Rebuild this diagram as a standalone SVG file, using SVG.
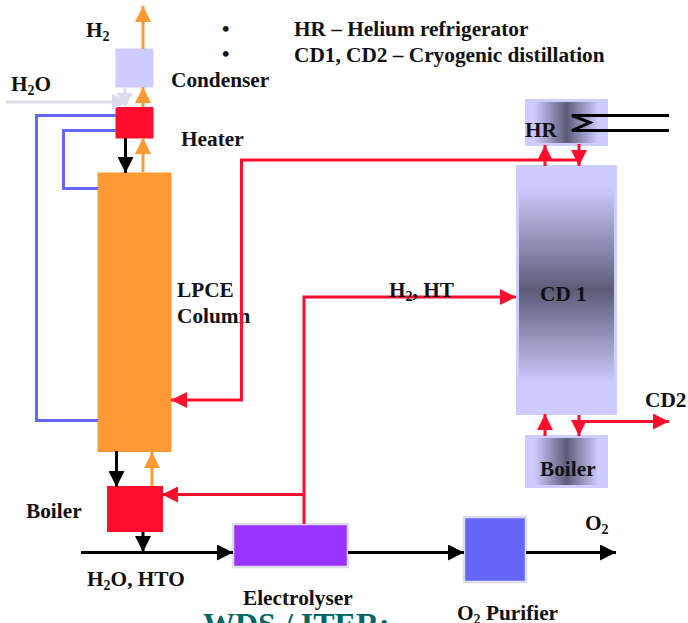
<svg xmlns="http://www.w3.org/2000/svg" width="688" height="623" viewBox="0 0 688 623">
<style>
text{font-family:"Liberation Serif","Times New Roman",serif;font-weight:bold;font-size:21.3px;fill:#111}
.sub{font-size:14px}
.l{fill:none;stroke-width:3}
.o{stroke:#ff9933}.r{stroke:#ff0d2d}.k{stroke:#000}.b{stroke:#6666ff}.g{stroke:#dcdcec}
.grad{stroke:#ccccff;stroke-width:3}
</style>
<defs>
<linearGradient id="h"><stop offset="0" stop-color="#ccccff"/><stop offset=".1" stop-color="#ccccff"/><stop offset=".5" stop-color="#5c5c78"/><stop offset=".9" stop-color="#ccccff"/><stop offset="1" stop-color="#ccccff"/></linearGradient>
<linearGradient id="v" x2="0" y2="1"><stop offset="0" stop-color="#ccccff"/><stop offset=".08" stop-color="#ccccff"/><stop offset=".5" stop-color="#5c5c78"/><stop offset=".88" stop-color="#ccccff"/><stop offset="1" stop-color="#ccccff"/></linearGradient>
<marker id="mo" markerUnits="userSpaceOnUse" markerWidth="16" markerHeight="16" refX="16" refY="8" orient="auto"><path d="M0 0L16 8L0 16Z" fill="#ff9933"/></marker>
<marker id="mr" markerUnits="userSpaceOnUse" markerWidth="16" markerHeight="16" refX="16" refY="8" orient="auto"><path d="M0 0L16 8L0 16Z" fill="#ff0d2d"/></marker>
<marker id="mk" markerUnits="userSpaceOnUse" markerWidth="16" markerHeight="16" refX="16" refY="8" orient="auto"><path d="M0 0L16 8L0 16Z" fill="#000"/></marker>
<marker id="mg" markerUnits="userSpaceOnUse" markerWidth="16" markerHeight="16" refX="16" refY="8" orient="auto"><path d="M0 0L16 8L0 16Z" fill="#dcdcec"/></marker>
</defs>
<g id="node-condenser"><rect x="115.500" y="48.500" width="38" height="39" fill="#ccccff"/><text x="171" y="87">Condenser</text></g>
<g id="node-heater"><rect x="115.500" y="107" width="38" height="31.500" fill="#ff0d2d"/><text x="181" y="146">Heater</text></g>
<g id="node-lpce"><rect x="97.500" y="172.500" width="74" height="279.500" fill="#ff9933"/><text x="177" y="297">LPCE</text><text x="177" y="323">Column</text></g>
<g id="node-boiler-left"><rect x="107" y="486" width="56" height="46" fill="#ff0d2d"/><text x="26" y="518">Boiler</text></g>
<g id="node-electrolyser"><rect x="233" y="524" width="115" height="43" fill="#9933ff" stroke="#dcdcec" stroke-width="2.500"/><text x="243" y="605">Electrolyser</text></g>
<g id="node-purifier"><rect x="464" y="517" width="62" height="65" fill="#6666ff" stroke="#dcdcec" stroke-width="2.500"/><text x="457" y="620">O<tspan class="sub" dy="4">2</tspan><tspan dy="-4"> Purifier</tspan></text></g>
<g id="node-hr"><rect class="grad" x="526.500" y="100.500" width="80" height="44" fill="url(#h)"/><text x="525" y="137">HR</text></g>
<g id="node-cd1"><rect class="grad" x="517.500" y="166.500" width="98" height="247" fill="url(#v)"/><text x="540" y="301">CD 1</text></g>
<g id="node-boiler-right"><rect class="grad" x="526.500" y="436.500" width="80" height="50" fill="url(#h)"/><text x="540" y="476">Boiler</text></g>
<g id="connectors">
<path class="l o" d="M143 49V6" marker-end="url(#mo)"/>
<path class="l o" d="M143 107V87" marker-end="url(#mo)"/>
<path class="l o" d="M143 172V138" marker-end="url(#mo)"/>
<path class="l o" d="M152 486V452" marker-end="url(#mo)"/>
<path class="l g" d="M125 88V106"/>
<path class="l g" d="M6 102H128" marker-end="url(#mg)"/>
<path d="M116 93H133L125 107Z" fill="#dcdcec"/>
<path class="l k" d="M125.500 138V173" marker-end="url(#mk)"/>
<path class="l k" d="M116.500 451V487" marker-end="url(#mk)"/>
<path class="l k" d="M143 532V552" marker-end="url(#mk)"/>
<path class="l k" d="M81 552.500H233" marker-end="url(#mk)"/>
<path class="l k" d="M348 552.500H464" marker-end="url(#mk)"/>
<path class="l k" d="M526 552.500H616" marker-end="url(#mk)"/>
<path class="l b" d="M116 115.500H36.500V420.500H98"/>
<path class="l b" d="M116 130.500H63.500V188.500H98"/>
<path class="l r" d="M545 160H241.500V400H171" marker-end="url(#mr)"/>
<path class="l r" d="M545 166V145" marker-end="url(#mr)"/>
<path class="l r" d="M579 144V166" marker-end="url(#mr)"/>
<path class="l r" d="M579 160H545"/>
<path class="l r" d="M304 524V297H516" marker-end="url(#mr)"/>
<path class="l r" d="M304 494.500H162" marker-end="url(#mr)"/>
<path class="l r" d="M545 436V414" marker-end="url(#mr)"/>
<path class="l r" d="M579 415V436" marker-end="url(#mr)"/>
<path class="l r" d="M579 421.500H669" marker-end="url(#mr)"/>
<path d="M669 115.500H572L590 122.500L572 130.500H669" fill="none" stroke="#000" stroke-width="3"/>
</g>
<g id="labels">
<text x="86" y="37">H<tspan class="sub" dy="4">2</tspan></text>
<text x="11" y="91">H<tspan class="sub" dy="4">2</tspan><tspan dy="-4">O</tspan></text>
<text x="222" y="36">•</text>
<text x="222" y="61">•</text>
<text x="294" y="36">HR – Helium refrigerator</text>
<text x="294" y="61.500">CD1, CD2 – Cryogenic distillation</text>
<text x="389" y="297">H<tspan class="sub" dy="4">2</tspan><tspan dy="-4">, HT</tspan></text>
<text x="645" y="407">CD2</text>
<text x="87" y="586">H<tspan class="sub" dy="4">2</tspan><tspan dy="-4">O, HTO</tspan></text>
<text x="585" y="530">O<tspan class="sub" dy="4">2</tspan></text>
<text x="203" y="635" style="font-size:32px;fill:#006666">WDS / ITER:</text>
</g>
</svg>
